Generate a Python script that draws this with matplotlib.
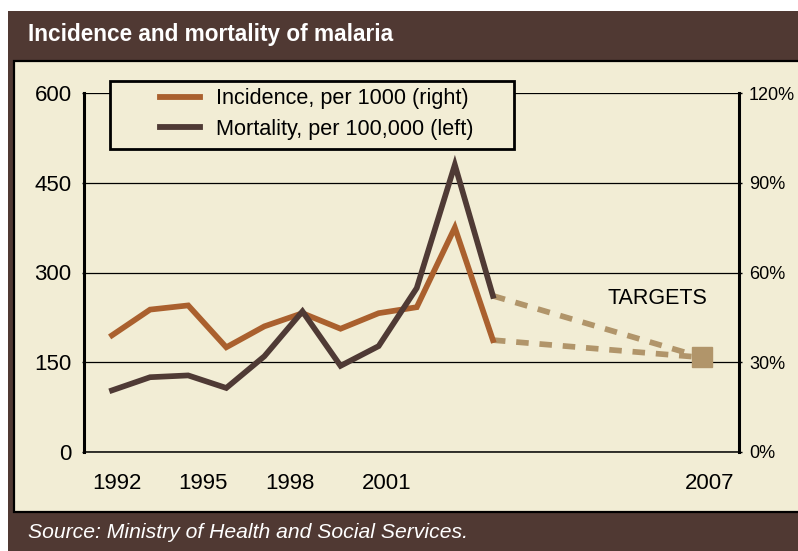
import numpy as np
import matplotlib
matplotlib.use("Agg")
import matplotlib.pyplot as plt
from matplotlib.patches import Rectangle
from matplotlib.lines import Line2D

plt.rcParams['font.family'] = ['Liberation Sans', 'DejaVu Sans']

# data
years = [1992, 1993, 1994, 1995, 1996, 1997, 1998, 1999, 2000, 2001, 2002]
incidence_pct = [39, 47.6, 49, 35, 42, 46.4, 41.2, 46.4, 48.4, 75, 37.4]   # per 1000, right axis
mortality = [103, 125, 128, 107, 160, 235, 144, 177, 274, 480, 261]        # per 100,000, left axis
target_label = '2007'
incidence_target = 31.6
mortality_target = 158

left_ticks = [0, 150, 300, 450, 600]
right_ticks = [0, 30, 60, 90, 120]
x_labels = ['1992', '1995', '1998', '2001', '2007']
# label positions as printed on the original (not evenly spaced with the data)
x_label_pos = [0.12, 2.38, 4.68, 7.22, 15.7]
target_pos = 15.5

DARK = '#503933'
CREAM = '#F2EDD5'
ORANGE = '#AA602E'
BROWN = '#4F3A35'
TAN = '#B1956A'

W, H = 798, 551
fig = plt.figure(figsize=(W / 100, H / 100), dpi=100)
fig.patch.set_facecolor('white')

# frame and panel (behind the axes)
fig.patches.append(Rectangle((8 / W, 0), 1, 1 - 11 / H, transform=fig.transFigure,
                             facecolor=DARK, edgecolor='none', zorder=-2))
fig.patches.append(Rectangle((13.5 / W, 1 - 512 / H), 1, (512 - 60.5) / H, transform=fig.transFigure,
                             facecolor=CREAM, edgecolor='black', linewidth=1.6, zorder=-1))

fig.text(28 / W, 1 - 35 / H, 'Incidence and mortality of malaria', color='white',
         fontsize=16.3, fontweight='bold', va='center', ha='left')
fig.text(28 / W, 1 - 533 / H, 'Source: Ministry of Health and Social Services.', color='white',
         fontsize=15.2, style='italic', va='center', ha='left')

ax = fig.add_axes([84 / W, 99 / H, (739 - 84) / W, (452 - 93) / H])
ax.set_facecolor('none')
ax2 = ax.twinx()

x = np.arange(len(years))
LW = 4.1

# incidence on the percent axis (ax), mortality on ax2 so it sits on top
ax.plot(x, incidence_pct, color=ORANGE, lw=LW, solid_joinstyle='miter', zorder=3)
ax2.plot(x, mortality, color=BROWN, lw=LW, solid_joinstyle='miter', zorder=3)

# targets
ax.plot([x[-1], target_pos], [incidence_pct[-1], incidence_target], color=TAN, lw=LW,
        dashes=(2.2, 1.9), zorder=2)
ax2.plot([x[-1], target_pos], [mortality[-1], mortality_target], color=TAN, lw=LW,
         dashes=(2.2, 1.9), zorder=2)
ax2.plot([target_pos], [mortality_target], marker='s', color=TAN, markersize=14, zorder=4,
         linestyle='none')
ax2.text(14.33, 257, 'TARGETS', fontsize=15.5, ha='center', va='center', color='black')

ax.set_xlim(-0.735, 16.46)
ax.set_ylim(0, 120)
ax2.set_ylim(0, 600)

ax.yaxis.tick_right()
ax2.yaxis.tick_left()
ax.set_yticks(right_ticks)
ax.set_yticklabels([f'{v}%' for v in right_ticks])
ax2.set_yticks(left_ticks)
ax2.set_yticklabels([str(v) for v in left_ticks])
ax.set_xticks(x_label_pos)
ax.set_xticklabels(x_labels)

ax.tick_params(axis='y', right=True, left=False, labelright=True, labelleft=False,
               length=2.2, width=1, pad=5, labelsize=13)
ax2.tick_params(axis='y', left=True, right=False, labelleft=True, labelright=False,
                length=1.5, width=1, pad=7.5, labelsize=16)
ax.tick_params(axis='x', length=0, pad=15, labelsize=16)

ax.grid(axis='y', color='black', linewidth=0.9)
ax.set_axisbelow(True)

ax.spines['top'].set_visible(False)
ax.spines['left'].set_linewidth(2.2)
ax.spines['right'].set_linewidth(2.2)
ax.spines['bottom'].set_linewidth(1.1)
for s in ax2.spines.values():
    s.set_visible(False)

# legend box covers the top gridline
ax2.add_patch(Rectangle((110 / W, 1 - 149 / H), (514 - 110) / W, (149 - 81) / H,
                        transform=fig.transFigure, facecolor=CREAM, edgecolor='black',
                        linewidth=2, zorder=6, clip_on=False))
handles = [Line2D([], [], color=ORANGE, lw=4.2), Line2D([], [], color=BROWN, lw=4.2)]
leg = ax2.legend(handles, ['Incidence, per 1000 (right)', 'Mortality, per 100,000 (left)'],
                 loc='center left', bbox_to_anchor=(160 / W, 1 - 114 / H),
                 bbox_transform=fig.transFigure, frameon=False, fontsize=15.6,
                 borderpad=0, borderaxespad=0, handlelength=1.85, handletextpad=0.72,
                 labelspacing=0.45)
leg.set_zorder(7)

fig.savefig('out.png', dpi=100)
